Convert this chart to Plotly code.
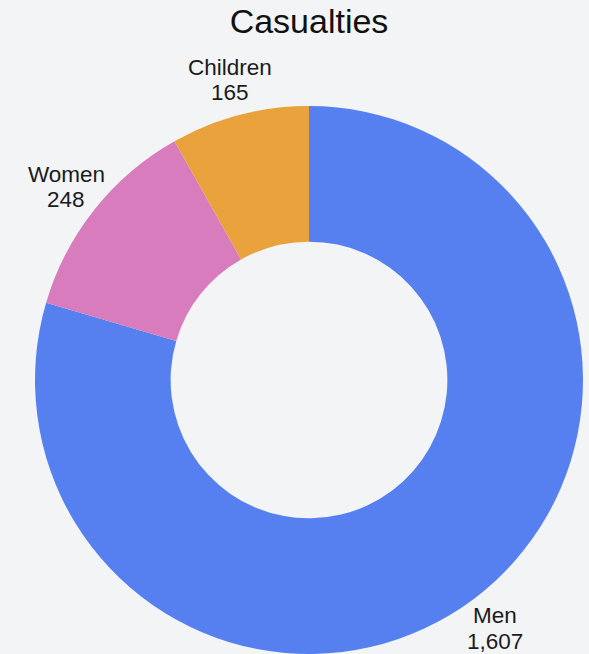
import math
import plotly.graph_objects as go

categories = ["Men", "Women", "Children"]
values = [1607, 248, 165]
colors = ["#5680EF", "#D97CBD", "#E9A23C"]

W, H = 589, 654
ML, MR, MT, MB = 35, 6, 106, 0
PW, PH = W - ML - MR, H - MT - MB
R = min(PW, PH) / 2
CX, CY = ML + PW / 2, MT + PH / 2
LABEL_R = R + 36
PITCH = 25.6
FONT = "Liberation Sans, Arial, sans-serif"

fig = go.Figure(go.Pie(
    labels=categories,
    values=values,
    hole=0.505,
    sort=False,
    direction="clockwise",
    rotation=0,
    marker=dict(colors=colors, line=dict(width=0)),
    textinfo="none",
    showlegend=False,
    hoverinfo="label+value+percent",
))

# outside labels, placed at each slice's mid-angle (computed from the values)
total = sum(values)
cum = 0
annotations = []
for cat, v in zip(categories, values):
    mid = (cum + v / 2) / total * 2 * math.pi
    cum += v
    px = CX + LABEL_R * math.sin(mid)
    py = CY - LABEL_R * math.cos(mid)
    for txt, dy in ((cat, -PITCH / 2), (f"{v:,}", PITCH / 2)):
        annotations.append(dict(
            text=txt,
            x=(px - ML) / PW, y=1 - (py + dy - MT) / PH,
            xref="paper", yref="paper",
            xanchor="center", yanchor="middle",
            borderpad=0,
            showarrow=False, align="center",
            font=dict(family=FONT, size=22.5, color="#1b1b1b"),
        ))

fig.update_layout(
    width=W, height=H,
    paper_bgcolor="#F2F4F6",
    plot_bgcolor="#F2F4F6",
    margin=dict(l=ML, r=MR, t=MT, b=MB),
    annotations=annotations,
    title=dict(text="Casualties", x=309 / W, xref="container", xanchor="center",
               y=1 - 21 / H, yref="container", yanchor="middle",
               font=dict(family=FONT, size=34, color="#111111")),
)

fig.write_html("out.html", config={"displayModeBar": False},
               post_script="document.body.style.margin='0';document.body.style.overflow='hidden';")
